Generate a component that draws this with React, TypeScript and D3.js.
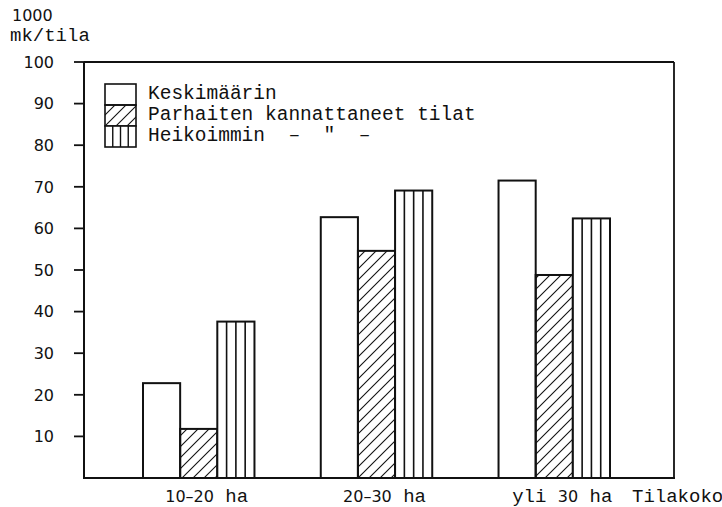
import React from "react";
import * as d3 from "d3";

const categories = ["10–20 ha", "20–30 ha", "yli 30 ha"];
const seriesNames = ["Keskimäärin", "Parhaiten kannattaneet tilat", "Heikoimmin"];
const legendLabels = ["Keskimäärin", "Parhaiten kannattaneet tilat", "Heikoimmin  –  \"  –"];
const keskimaarin = [22.8, 62.7, 71.5];
const parhaiten = [11.8, 54.6, 48.8];
const heikoimmin = [37.6, 69.1, 62.4];
const yTicks = [10, 20, 30, 40, 50, 60, 70, 80, 90, 100];
const yUnitTop = "1000";
const yUnit = "mk/tila";
const xTitle = "Tilakoko";

const W = 722;
const H = 507;
const INK = "#111";
const MONO = "'Liberation Mono', 'DejaVu Sans Mono', monospace";
const SANS = "'DejaVu Sans', sans-serif";

const plotLeft = 84;
const plotRight = 674;
const plotTop = 62;
const plotBottom = 478;

function splitMixed(label: string) {
  // digits/dashes in sans, letters in typewriter mono
  const parts: { t: string; mono: boolean }[] = [];
  const re = /([0-9–\-]+)|([^0-9–\-]+)/g;
  let m;
  while ((m = re.exec(label)) !== null) {
    parts.push({ t: m[0], mono: !m[1] });
  }
  return parts;
}

export default function App() {
  const y = d3.scaleLinear().domain([0, 100]).range([plotBottom, plotTop]);
  const x0 = d3.scaleBand<string>().domain(categories).range([143, 610]).paddingInner(0.373).paddingOuter(0);
  const x1 = d3.scaleBand<string>().domain(seriesNames).range([0, x0.bandwidth()]).padding(0);
  const values = [keskimaarin, parhaiten, heikoimmin];

  const bars: React.ReactNode[] = [];
  categories.forEach((c, ci) => {
    seriesNames.forEach((s, si) => {
      const v = values[si][ci];
      const bx = (x0(c) as number) + (x1(s) as number);
      const bw = x1.bandwidth();
      const by = y(v);
      const bh = plotBottom - by;
      const fill = si === 1 ? "url(#hatch)" : "#fff";
      bars.push(
        <g key={`${c}-${s}`}>
          <rect x={bx} y={by} width={bw} height={bh} fill={fill} stroke={INK} strokeWidth={2} />
          {si === 2 &&
            [1, 2, 3].map((k) => (
              <line key={k} x1={bx + (bw * k) / 4} x2={bx + (bw * k) / 4} y1={by} y2={plotBottom} stroke={INK} strokeWidth={1.6} />
            ))}
        </g>
      );
    });
  });

  const legendX = 105;
  const legendW = 31;
  const legendRowH = 21;
  const legendTop = 84;

  return (
    <div style={{ position: "absolute", left: 0, top: 0, width: W, height: H, background: "#fff" }}>
      <svg width={W} height={H} viewBox={`0 0 ${W} ${H}`} style={{ display: "block" }}>
        <defs>
          <pattern id="hatch" patternUnits="userSpaceOnUse" width={11} height={11}>
            <path d="M-2,13 L13,-2 M-2,2 L2,-2 M9,13 L13,9" stroke={INK} strokeWidth={1.1} />
          </pattern>
        </defs>
        <rect x={0} y={0} width={W} height={H} fill="#fff" />

        {/* unit labels */}
        <text x={12} y={21} fontFamily={SANS} fontSize={16} fill={INK}>{yUnitTop}</text>
        <text x={10} y={41} fontFamily={MONO} fontSize={19} fill={INK}>{yUnit}</text>

        {/* frame */}
        <line x1={plotLeft} x2={plotLeft} y1={plotTop} y2={plotBottom} stroke={INK} strokeWidth={2} />
        <line x1={plotLeft} x2={plotRight} y1={plotTop} y2={plotTop} stroke={INK} strokeWidth={1.8} />
        <line x1={plotRight} x2={plotRight} y1={plotTop} y2={plotBottom} stroke={INK} strokeWidth={1.8} />

        {/* y ticks */}
        {yTicks.map((t) => (
          <g key={t}>
            <line x1={plotLeft - 10} x2={plotLeft} y1={y(t)} y2={y(t)} stroke={INK} strokeWidth={1.8} />
            <text x={54} y={y(t)} dy="0.36em" textAnchor="end" fontFamily={SANS} fontSize={16} fill={INK}>
              {t}
            </text>
          </g>
        ))}

        {bars}

        {/* baseline */}
        <line x1={plotLeft - 1} x2={plotRight + 1} y1={plotBottom} y2={plotBottom} stroke={INK} strokeWidth={2.2} />

        {/* category labels */}
        {categories.map((c) => (
          <text key={c} x={(x0(c) as number) + x0.bandwidth() / 2 + 8} y={502} textAnchor="middle" fill={INK}>
            {splitMixed(c).map((p, i) => (
              <tspan key={i} fontFamily={p.mono ? MONO : SANS} fontSize={p.mono ? 19 : 16}>
                {p.t}
              </tspan>
            ))}
          </text>
        ))}
        <text x={632} y={502} fontFamily={MONO} fontSize={19} fill={INK}>{xTitle}</text>

        {/* legend */}
        {legendLabels.map((l, i) => {
          const ly = legendTop + i * legendRowH;
          return (
            <g key={l}>
              <rect x={legendX} y={ly} width={legendW} height={legendRowH} fill={i === 1 ? "url(#hatch)" : "#fff"} stroke={INK} strokeWidth={1.6} />
              {i === 2 &&
                [1, 2, 3].map((k) => (
                  <line key={k} x1={legendX + (legendW * k) / 4} x2={legendX + (legendW * k) / 4} y1={ly} y2={ly + legendRowH} stroke={INK} strokeWidth={1.4} />
                ))}
              <text x={148} y={ly + 15} fontFamily={MONO} fontSize={19.5} fill={INK} style={{ whiteSpace: "pre" }}>
                {l}
              </text>
            </g>
          );
        })}
      </svg>
    </div>
  );
}
